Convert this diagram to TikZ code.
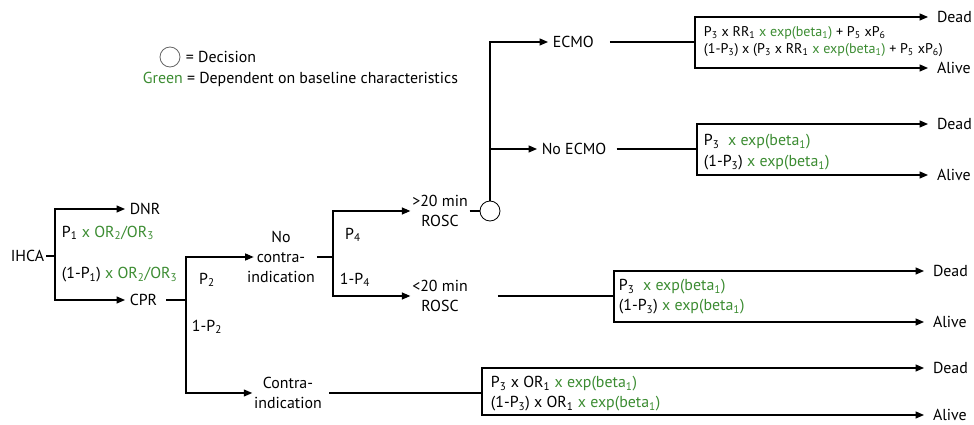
\documentclass[tikz,border=0pt]{standalone}
\usepackage{fontspec}
\setmainfont{PT Sans}
\usetikzlibrary{
	arrows.meta,
	positioning,
	calc
}
\definecolor{depgreen}{RGB}{60,140,50}
\newcommand{\dep}[1]{\textcolor{depgreen}{#1}}
\newcommand{\lo}[1]{\textsubscript{#1}}

\begin{document}
\begin{tikzpicture}[
		x=0.025cm, y=-0.025cm,
		line width=0.8pt,
		txt/.style={inner sep=1pt, font=\fontsize{11.3}{14}\selectfont},
		lbl/.style={txt, anchor=west},
		small/.style={lbl, font=\fontsize{10}{12}\selectfont},
		choice/.style={txt, anchor=west, inner xsep=3pt},
		outcome/.style={txt, anchor=west, inner xsep=6pt},
		decision/.style={draw, circle, minimum size=0.5cm, inner sep=0pt, line width=0.6pt},
		arrow/.style={-{Triangle[length=6pt,width=5pt]}}
		]
		\useasboundingbox (0,0) rectangle (974,425);
		
		% Legend
		\node[decision, draw=black!60] (legdec) at (170,57) {};
		\node[lbl] (legdectxt) at (184,57) {= Decision};
		\node[lbl] (leggreen) at (141,79) {\dep{Green} = Dependent on baseline characteristics};
		
		% IHCA
		\node[txt, anchor=east] (ihca) at (46,256) {IHCA};
		\coordinate (f1) at (55,256);
		\node[choice] (dnr) at (125,209) {DNR};
		\node[choice] (cpr) at (125,300) {CPR};
		\node[lbl] (p1) at (60,233) {P\lo1 \dep{x OR\lo2/OR\lo3}};
		\node[lbl] (p1n) at (60,275) {(1-P\lo1) \dep{x OR\lo2/OR\lo3}};
		
		\draw (ihca) -- (f1);
		\draw[arrow] (f1) |- (dnr.west);
		\draw[arrow] (f1) |- (cpr.west);
		
		% CPR
		\coordinate (f2) at (186,300);
		\node[txt, align=center] (nocon) at (281,257) {No\\contra-\\indication};
		\node[txt, align=center] (contra) at (288,393) {Contra-\\indication};
		\node[txt] (p2) at (207,280) {P\lo2};
		\node[txt] (p2n) at (207,327) {1-P\lo2};
		
		\draw[shorten <=3pt] (cpr) -- (f2);
		\draw[arrow] (f2) |- ([xshift=6pt]nocon.west);
		\draw[arrow] (f2) |- (contra.west);
		
		% No contraindication
		\coordinate (f3) at (333,257);
		\node[txt, align=center] (gt20) at (440,211) {>20 min\\ROSC};
		\node[txt, align=center] (lt20) at (440,296) {<20 min\\ROSC};
		\node[txt] (p4) at (353,235) {P\lo4};
		\node[txt] (p4n) at (355,280) {1-P\lo4};
		
		\draw (nocon) -- (f3);
		\draw[arrow] (f3) |- (gt20.west);
		\draw[arrow] (f3) |- (lt20.west);
		
		% Decision after >20 min ROSC
		\node[decision] (dec) at (490,211) {};
		\node[choice] (ecmo) at (548,42) {ECMO};
		\node[choice] (noecmo) at (537,149) {No ECMO};
		
		\draw (gt20) -- (dec);
		\draw[arrow] (dec) |- (ecmo.west);
		\draw[arrow] (dec) |- (noecmo.west);
		
		% ECMO outcomes
		\coordinate (b1) at (695,42);
		\node[small] (t1a) at (702,33) {P\lo3 x RR\lo1 \dep{x exp(beta\lo1)} + P\lo5 xP\lo6};
		\node[small] (t1b) at (702,50) {(1-P\lo3) x (P\lo3 x RR\lo1 \dep{x exp(beta\lo1)} + P\lo5 xP\lo6)};
		\node[outcome] (dead1) at (928,17) {Dead};
		\node[outcome] (alive1) at (928,68) {Alive};
		
		\draw[shorten <=8pt] (ecmo) -- (b1);
		\draw[arrow] (b1) |- (dead1.west);
		\draw[arrow] (b1) |- (alive1.west);
		
		% No ECMO outcomes
		\coordinate (b2) at (697,149);
		\node[lbl] (t2a) at (702,142) {P\lo3 \dep{\ x exp(beta\lo1)}};
		\node[lbl] (t2b) at (702,163) {(1-P\lo3) \dep{x exp(beta\lo1)}};
		\node[outcome] (dead2) at (928,124) {Dead};
		\node[outcome] (alive2) at (928,175) {Alive};
		
		\draw[shorten <=4pt] (noecmo) -- (b2);
		\draw[arrow] (b2) |- (dead2.west);
		\draw[arrow] (b2) |- (alive2.west);
		
		% <20 min ROSC outcomes
		\coordinate (b3) at (614,296);
		\node[lbl] (t3a) at (617,287) {P\lo3 \dep{\ x exp(beta\lo1)}};
		\node[lbl] (t3b) at (617,307) {(1-P\lo3) \dep{x exp(beta\lo1)}};
		\node[outcome] (dead3) at (924,271) {Dead};
		\node[outcome] (alive3) at (924,322) {Alive};
		
		\draw[shorten <=20pt] (lt20) -- (b3);
		\draw[arrow] (b3) |- (dead3.west);
		\draw[arrow] (b3) |- (alive3.west);
		
		% Contraindication outcomes
		\coordinate (b4) at (482,393);
		\node[lbl] (t4a) at (489,384) {P\lo3 x OR\lo1 \dep{x exp(beta\lo1)}};
		\node[lbl] (t4b) at (489,404) {(1-P\lo3) x OR\lo1 \dep{x exp(beta\lo1)}};
		\node[outcome] (dead4) at (924,368) {Dead};
		\node[outcome] (alive4) at (924,415) {Alive};
		
		\draw[shorten <=4pt] (contra) -- (b4);
		\draw[arrow] (b4) |- (dead4.west);
		\draw[arrow] (b4) |- (alive4.west);
		
	\end{tikzpicture}
\end{document}
